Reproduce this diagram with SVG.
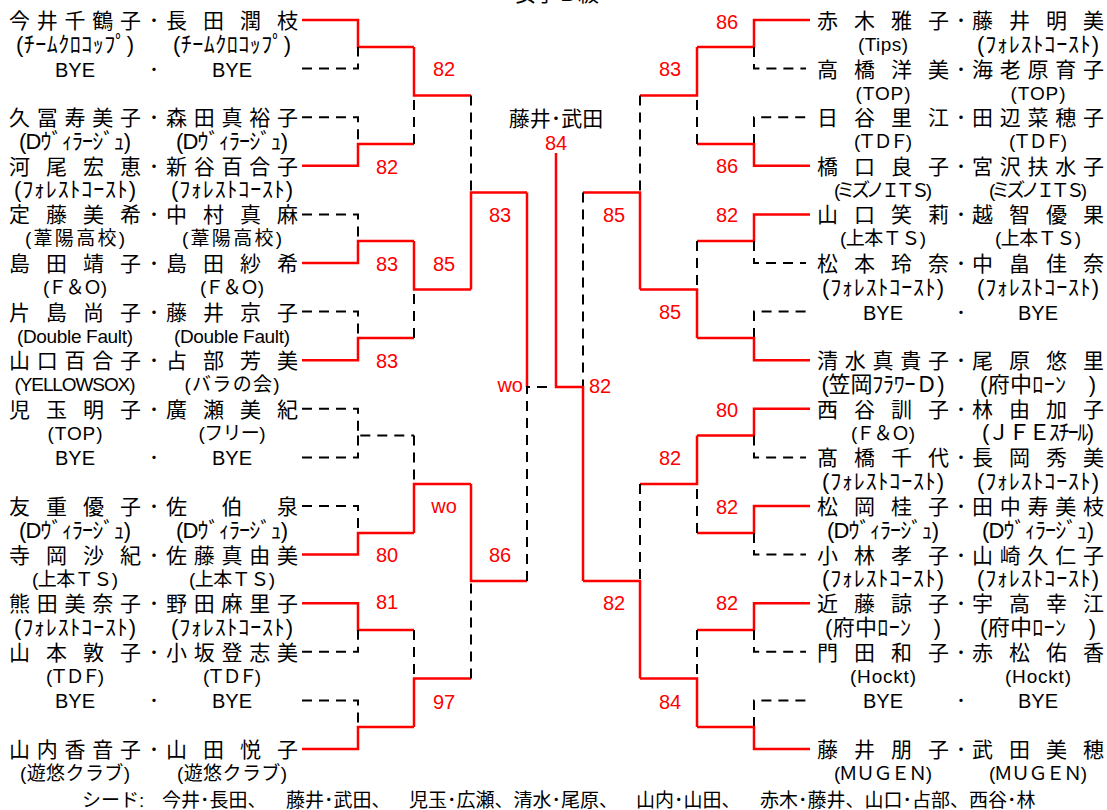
<svg xmlns="http://www.w3.org/2000/svg" width="1107" height="810" viewBox="0 0 1107 810">
<style>
text{font-family:"Liberation Sans","Noto Sans CJK JP",sans-serif;fill:#000}
.nm{font-size:21px}
.by{font-size:20px;text-anchor:middle}
.tm{font-size:19px;text-anchor:middle}
.tk{font-size:22px;text-anchor:middle}
.sc{font-size:20px;fill:#ff0000;text-anchor:middle}
.hd{font-size:21px;text-anchor:middle}
.sd{font-size:19px}
.w{fill:none;stroke:#ff0000;stroke-width:2.5}
.l{fill:none;stroke:#000;stroke-width:2;stroke-dasharray:10 7}
</style>
<rect width="1107" height="810" fill="#fff"/>
<text class="hd" x="557" y="1">女子Ｂ級</text>

<g id="connectors">
<path class="w" d="M302,20H358V47H414"/>
<path class="l" d="M302,68.6H358V47"/>
<path class="l" d="M302,117.2H358V144"/>
<path class="w" d="M302,165.8H358V144H414"/>
<path class="w" d="M414,47V95.5H471"/>
<path class="l" d="M414,144V95.5"/>
<path class="l" d="M302,214.4H358V241"/>
<path class="w" d="M302,263H358V241H414"/>
<path class="l" d="M302,311.6H358V338"/>
<path class="w" d="M302,360.2H358V338H414"/>
<path class="w" d="M414,241V289.5H471"/>
<path class="l" d="M414,338V289.5"/>
<path class="l" d="M471,95.5V192.5"/>
<path class="w" d="M471,289.5V192.5H527"/>
<path class="l" d="M302,408.8H358V435.5H414"/>
<path class="l" d="M302,457.4H358V435.5"/>
<path class="l" d="M302,506H358V533"/>
<path class="w" d="M302,554.6H358V533H414"/>
<path class="l" d="M414,435.5V484"/>
<path class="w" d="M414,533V484H471"/>
<path class="w" d="M302,603.2H358V630H414"/>
<path class="l" d="M302,651.8H358V630"/>
<path class="l" d="M302,700.4H358V727"/>
<path class="w" d="M302,749H358V727H414"/>
<path class="l" d="M414,630V678.5"/>
<path class="w" d="M414,727V678.5H471"/>
<path class="w" d="M471,484V581H527"/>
<path class="l" d="M471,678.5V581"/>
<path class="w" d="M527,192.5V387"/>
<path class="l" d="M527,581V387H550"/>

<path class="w" d="M810,20H754V47H697"/>
<path class="l" d="M754,47V68.6H806"/>
<path class="l" d="M754,144V117.2H806"/>
<path class="w" d="M810,165.8H754V144H697"/>
<path class="w" d="M697,47V95.5H640"/>
<path class="l" d="M697,144V95.5"/>
<path class="w" d="M810,214.4H754V241H697"/>
<path class="l" d="M754,241V263H806"/>
<path class="l" d="M754,338V311.6H806"/>
<path class="w" d="M810,360.2H754V338H697"/>
<path class="l" d="M697,241V289.5"/>
<path class="w" d="M697,338V289.5H640"/>
<path class="l" d="M640,95.5V192.5"/>
<path class="w" d="M640,289.5V192.5H583"/>
<path class="w" d="M810,408.8H754V435.5H697"/>
<path class="l" d="M754,435.5V457.4H806"/>
<path class="w" d="M810,506H754V533H697"/>
<path class="l" d="M754,533V554.6H806"/>
<path class="w" d="M697,435.5V484H640"/>
<path class="l" d="M697,533V484"/>
<path class="w" d="M810,603.2H754V630H697"/>
<path class="l" d="M754,630V651.8H806"/>
<path class="l" d="M754,727V700.4H806"/>
<path class="w" d="M810,749H754V727H697"/>
<path class="l" d="M697,630V678.5"/>
<path class="w" d="M697,727V678.5H640"/>
<path class="l" d="M640,484V581"/>
<path class="w" d="M640,678.5V581H583"/>
<path class="l" d="M583,192.5V387"/>
<path class="w" d="M583,581V387H556V153"/>
</g>

<g id="scores">
<text class="sc" x="444" y="76">82</text>
<text class="sc" x="387" y="174">82</text>
<text class="sc" x="387" y="271">83</text>
<text class="sc" x="444" y="271">85</text>
<text class="sc" x="387" y="368">83</text>
<text class="sc" x="500" y="222">83</text>
<text class="sc" x="444" y="513">wo</text>
<text class="sc" x="387" y="562">80</text>
<text class="sc" x="500" y="562">86</text>
<text class="sc" x="387" y="609">81</text>
<text class="sc" x="444" y="709">97</text>
<text class="sc" x="523" y="392" style="text-anchor:end">wo</text>
<text class="sc" x="556" y="150">84</text>
<text class="sc" x="727" y="29">86</text>
<text class="sc" x="670" y="76">83</text>
<text class="sc" x="727" y="173">86</text>
<text class="sc" x="727" y="222">82</text>
<text class="sc" x="614" y="222">85</text>
<text class="sc" x="670" y="319">85</text>
<text class="sc" x="589" y="393" style="text-anchor:start">82</text>
<text class="sc" x="727" y="417">80</text>
<text class="sc" x="670" y="465">82</text>
<text class="sc" x="727" y="514">82</text>
<text class="sc" x="614" y="610">82</text>
<text class="sc" x="727" y="610">82</text>
<text class="sc" x="670" y="709">84</text>
</g>

<g id="champion"><text class="hd" x="556" y="126">藤井･武田</text></g>

<g id="L00"><text class="nm" x="9 36.75 64.5 92.25 120 148.75 166 203 240 277" y="28">今井千鶴子･長田潤枝</text>
<text class="tk" x="75" y="51.5" textLength="118">(ﾁｰﾑｸﾛｺｯﾌﾟ)</text><text class="tk" x="232" y="51.5" textLength="118">(ﾁｰﾑｸﾛｺｯﾌﾟ)</text></g>
<g id="L02"><text class="by" y="76.6"><tspan x="75">BYE</tspan><tspan x="154">･</tspan><tspan x="232">BYE</tspan></text></g>
<g id="L04"><text class="nm" x="9 36.75 64.5 92.25 120 148.75 166 193.75 221.5 249.25 277" y="125.2">久冨寿美子･森田真裕子</text>
<text class="tk" x="75" y="148.7" textLength="112">(Dｳﾞｨﾗｰｼﾞｭ)</text><text class="tk" x="232" y="148.7" textLength="112">(Dｳﾞｨﾗｰｼﾞｭ)</text></g>
<g id="L06"><text class="nm" x="9 46 83 120 148.75 166 193.75 221.5 249.25 277" y="173.8">河尾宏恵･新谷百合子</text>
<text class="tk" x="75" y="197.3" textLength="122">(ﾌｫﾚｽﾄｺｰｽﾄ)</text><text class="tk" x="232" y="197.3" textLength="122">(ﾌｫﾚｽﾄｺｰｽﾄ)</text></g>
<g id="L08"><text class="nm" x="9 46 83 120 148.75 166 203 240 277" y="222.4">定藤美希･中村真麻</text>
<text class="tm" x="75" y="245.4" textLength="100">(葦陽高校)</text><text class="tm" x="232" y="245.4" textLength="100">(葦陽高校)</text></g>
<g id="L10"><text class="nm" x="9 46 83 120 148.75 166 203 240 277" y="271">島田靖子･島田紗希</text>
<text class="tm" x="75" y="294" textLength="64">(Ｆ＆Ｏ)</text><text class="tm" x="232" y="294" textLength="64">(Ｆ＆Ｏ)</text></g>
<g id="L12"><text class="nm" x="9 46 83 120 148.75 166 203 240 277" y="319.6">片島尚子･藤井京子</text>
<text class="tm" x="75" y="342.6" textLength="116">(Double Fault)</text><text class="tm" x="232" y="342.6" textLength="116">(Double Fault)</text></g>
<g id="L14"><text class="nm" x="9 36.75 64.5 92.25 120 148.75 166 203 240 277" y="368.2">山口百合子･占部芳美</text>
<text class="tm" x="75" y="391.2" textLength="121">(YELLOWSOX)</text><text class="tm" x="232" y="391.2" textLength="95">(バラの会)</text></g>
<g id="L16"><text class="nm" x="9 46 83 120 148.75 166 203 240 277" y="416.8">児玉明子･廣瀬美紀</text>
<text class="tm" x="75" y="439.8" textLength="55">(TOP)</text><text class="tm" x="232" y="439.8" textLength="67">(フリー)</text></g>
<g id="L18"><text class="by" y="465.4"><tspan x="75">BYE</tspan><tspan x="154">･</tspan><tspan x="232">BYE</tspan></text></g>
<g id="L20"><text class="nm" x="9 46 83 120 148.75 166 221.5 277" y="514">友重優子･佐伯泉</text>
<text class="tk" x="75" y="537.5" textLength="112">(Dｳﾞｨﾗｰｼﾞｭ)</text><text class="tk" x="232" y="537.5" textLength="112">(Dｳﾞｨﾗｰｼﾞｭ)</text></g>
<g id="L22"><text class="nm" x="9 46 83 120 148.75 166 193.75 221.5 249.25 277" y="562.6">寺岡沙紀･佐藤真由美</text>
<text class="tm" x="75" y="585.6" textLength="86">(上本ＴＳ)</text><text class="tm" x="232" y="585.6" textLength="86">(上本ＴＳ)</text></g>
<g id="L24"><text class="nm" x="9 36.75 64.5 92.25 120 148.75 166 193.75 221.5 249.25 277" y="611.2">熊田美奈子･野田麻里子</text>
<text class="tk" x="75" y="634.7" textLength="122">(ﾌｫﾚｽﾄｺｰｽﾄ)</text><text class="tk" x="232" y="634.7" textLength="122">(ﾌｫﾚｽﾄｺｰｽﾄ)</text></g>
<g id="L26"><text class="nm" x="9 46 83 120 148.75 166 193.75 221.5 249.25 277" y="659.8">山本敦子･小坂登志美</text>
<text class="tm" x="75" y="682.8" textLength="58">(ＴＤＦ)</text><text class="tm" x="232" y="682.8" textLength="58">(ＴＤＦ)</text></g>
<g id="L28"><text class="by" y="708.4"><tspan x="75">BYE</tspan><tspan x="154">･</tspan><tspan x="232">BYE</tspan></text></g>
<g id="L30"><text class="nm" x="9 36.75 64.5 92.25 120 148.75 166 203 240 277" y="757">山内香音子･山田悦子</text>
<text class="tm" x="75" y="780" textLength="110">(遊悠クラブ)</text><text class="tm" x="232" y="780" textLength="110">(遊悠クラブ)</text></g>

<g id="R00"><text class="nm" x="817 854 891 928 955.75 972 1009 1046 1083" y="28">赤木雅子･藤井明美</text>
<text class="tm" x="883" y="51" textLength="50">(Tips)</text><text class="tk" x="1038" y="51.5" textLength="122">(ﾌｫﾚｽﾄｺｰｽﾄ)</text></g>
<g id="R02"><text class="nm" x="817 854 891 928 955.75 972 999.75 1027.5 1055.25 1083" y="76.6">高橋洋美･海老原育子</text>
<text class="tm" x="883" y="99.6" textLength="55">(TOP)</text><text class="tm" x="1038" y="99.6" textLength="55">(TOP)</text></g>
<g id="R04"><text class="nm" x="817 854 891 928 955.75 972 999.75 1027.5 1055.25 1083" y="125.2">日谷里江･田辺菜穂子</text>
<text class="tm" x="883" y="148.2" textLength="58">(ＴＤＦ)</text><text class="tm" x="1038" y="148.2" textLength="58">(ＴＤＦ)</text></g>
<g id="R06"><text class="nm" x="817 854 891 928 955.75 972 999.75 1027.5 1055.25 1083" y="173.8">橋口良子･宮沢扶水子</text>
<text class="tm" x="883" y="196.8" textLength="98">(ミズノＩＴＳ)</text><text class="tm" x="1038" y="196.8" textLength="98">(ミズノＩＴＳ)</text></g>
<g id="R08"><text class="nm" x="817 854 891 928 955.75 972 1009 1046 1083" y="222.4">山口笑莉･越智優果</text>
<text class="tm" x="883" y="245.4" textLength="86">(上本ＴＳ)</text><text class="tm" x="1038" y="245.4" textLength="86">(上本ＴＳ)</text></g>
<g id="R10"><text class="nm" x="817 854 891 928 955.75 972 1009 1046 1083" y="271">松本玲奈･中畠佳奈</text>
<text class="tk" x="883" y="294.5" textLength="122">(ﾌｫﾚｽﾄｺｰｽﾄ)</text><text class="tk" x="1038" y="294.5" textLength="122">(ﾌｫﾚｽﾄｺｰｽﾄ)</text></g>
<g id="R12"><text class="by" y="319.6"><tspan x="883">BYE</tspan><tspan x="961">･</tspan><tspan x="1038">BYE</tspan></text></g>
<g id="R14"><text class="nm" x="817 844.75 872.5 900.25 928 955.75 972 1009 1046 1083" y="368.2">清水真貴子･尾原悠里</text>
<text class="tk" x="883" y="391.7" textLength="123">(笠岡ﾌﾗﾜｰＤ)</text><text class="tk" x="1038" y="391.7" textLength="116">(府中ﾛｰﾝ　)</text></g>
<g id="R16"><text class="nm" x="817 854 891 928 955.75 972 1009 1046 1083" y="416.8">西谷訓子･林由加子</text>
<text class="tm" x="883" y="439.8" textLength="64">(Ｆ＆Ｏ)</text><text class="tk" x="1038" y="440.3" textLength="112">(ＪＦＥｽﾁｰﾙ)</text></g>
<g id="R18"><text class="nm" x="817 854 891 928 955.75 972 1009 1046 1083" y="465.4">髙橋千代･長岡秀美</text>
<text class="tk" x="883" y="488.9" textLength="122">(ﾌｫﾚｽﾄｺｰｽﾄ)</text><text class="tk" x="1038" y="488.9" textLength="122">(ﾌｫﾚｽﾄｺｰｽﾄ)</text></g>
<g id="R20"><text class="nm" x="817 854 891 928 955.75 972 999.75 1027.5 1055.25 1083" y="514">松岡桂子･田中寿美枝</text>
<text class="tk" x="883" y="537.5" textLength="112">(Dｳﾞｨﾗｰｼﾞｭ)</text><text class="tk" x="1038" y="537.5" textLength="112">(Dｳﾞｨﾗｰｼﾞｭ)</text></g>
<g id="R22"><text class="nm" x="817 854 891 928 955.75 972 999.75 1027.5 1055.25 1083" y="562.6">小林孝子･山崎久仁子</text>
<text class="tk" x="883" y="586.1" textLength="122">(ﾌｫﾚｽﾄｺｰｽﾄ)</text><text class="tk" x="1038" y="586.1" textLength="122">(ﾌｫﾚｽﾄｺｰｽﾄ)</text></g>
<g id="R24"><text class="nm" x="817 854 891 928 955.75 972 1009 1046 1083" y="611.2">近藤諒子･宇高幸江</text>
<text class="tk" x="883" y="634.7" textLength="116">(府中ﾛｰﾝ　)</text><text class="tk" x="1038" y="634.7" textLength="116">(府中ﾛｰﾝ　)</text></g>
<g id="R26"><text class="nm" x="817 854 891 928 955.75 972 1009 1046 1083" y="659.8">門田和子･赤松佑香</text>
<text class="tm" x="883" y="682.8" textLength="66">(Hockt)</text><text class="tm" x="1038" y="682.8" textLength="66">(Hockt)</text></g>
<g id="R28"><text class="by" y="708.4"><tspan x="883">BYE</tspan><tspan x="961">･</tspan><tspan x="1038">BYE</tspan></text></g>
<g id="R30"><text class="nm" x="817 854 891 928 955.75 972 1009 1046 1083" y="757">藤井朋子･武田美穂</text>
<text class="tm" x="883" y="780" textLength="98">(ＭＵＧＥＮ)</text><text class="tm" x="1038" y="780" textLength="98">(ＭＵＧＥＮ)</text></g>

<g id="seeds"><text class="sd" y="806.5"><tspan x="82">シード:</tspan><tspan x="162">今井･長田、</tspan><tspan x="286">藤井･武田、</tspan><tspan x="409">児玉･広瀬、清水･尾原、</tspan><tspan x="636">山内･山田、</tspan><tspan x="760">赤木･藤井、山口･占部、西谷･林</tspan></text></g>
</svg>
